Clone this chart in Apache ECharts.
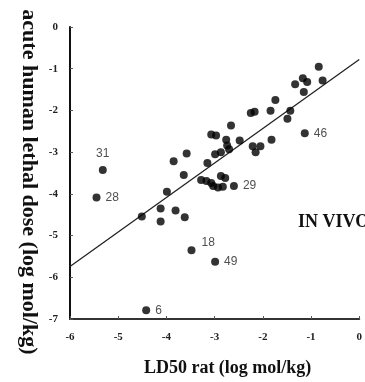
<!DOCTYPE html>
<html>
<head>
<meta charset="utf-8">
<script src="https://cdn.jsdelivr.net/npm/echarts@6/dist/echarts.min.js"></script>
<style>
html,body{margin:0;padding:0;background:#fff;}
#chart{width:365px;height:382px;}
</style>
</head>
<body>
<div id="chart"></div>
<script>
// LD50 rat (log mol/kg)
var ldRat = [-5.32,-5.45,-4.51,-4.12,-4.12,-3.99,-3.81,-3.62,-3.48,-3.85,
             -3.58,-3.64,-3.15,-3.28,-3.17,-3.07,-3.03,-2.93,-2.83,-2.87,
             -2.78,-2.60,-2.99,-2.87,-3.07,-2.97,-2.76,-2.74,-2.70,-2.48,
             -2.66,-2.21,-2.05,-2.15,-1.82,-2.25,-2.17,-1.84,-1.49,-1.43,
             -1.74,-1.15,-1.33,-1.17,-1.08,-0.84,-0.76,-1.13,-2.99,-4.42];
// acute human lethal dose (log mol/kg)
var humanDose = [-3.43,-4.09,-4.54,-4.35,-4.66,-3.95,-4.40,-4.56,-5.35,-3.22,
                 -3.03,-3.55,-3.26,-3.67,-3.69,-3.74,-3.81,-3.85,-3.83,-3.57,
                 -3.62,-3.81,-3.05,-3.00,-2.58,-2.60,-2.70,-2.84,-2.93,-2.72,
                 -2.36,-2.86,-2.86,-3.00,-2.70,-2.06,-2.03,-2.01,-2.20,-2.01,
                 -1.75,-1.56,-1.37,-1.23,-1.32,-0.95,-1.28,-2.55,-5.63,-6.79];
// point labels (outliers)
var pointLabels = ['31','28','','','','','','','18','',
                   '','','','','','','','','','',
                   '','29','','','','','','','','',
                   '','','','','','','','','','',
                   '','','','','','','','46','49','6'];
// regression line
var fitX = [-6, 0];
var fitY = [-5.74, -0.78];
var xTicks = [-6,-5,-4,-3,-2,-1,0];
var yTicks = [0,-1,-2,-3,-4,-5,-6,-7];
var xTitle = 'LD50 rat (log mol/kg)';
var yTitle = 'acute human lethal dose (log mol/kg)';
var panelText = 'IN VIVO';

var labelStyle = {
  '31': {position:'top', distance:6},
  '18': {position:'right', distance:6, offset:[0,-7]},
  default: {position:'right', distance:5}
};

var scatterData = ldRat.map(function(x, i){
  var item = {value:[x, humanDose[i]]};
  var lab = pointLabels[i];
  if (lab) {
    var s = labelStyle[lab] || labelStyle.default;
    item.label = {
      show:true, formatter:lab, position:s.position, distance:s.distance,
      offset:s.offset || [0,0], color:'#222', fontSize:12,
      fontFamily:'Liberation Sans, Arial, sans-serif'
    };
  }
  return item;
});
var lineData = fitX.map(function(x, i){ return [x, fitY[i]]; });

var chart = echarts.init(document.getElementById('chart'), null, {renderer:'canvas'});
var tickFont = {color:'#222', fontSize:11, fontWeight:'bold', fontFamily:'Liberation Serif, Times New Roman, serif'};
chart.setOption({
  animation:false,
  backgroundColor:'#fff',
  grid:{left:70, right:2, top:27, bottom:59},
  xAxis:{
    type:'value', min:xTicks[0], max:xTicks[xTicks.length-1], interval:1,
    name:xTitle, nameLocation:'middle', nameGap:40,
    nameTextStyle:{color:'#111', fontSize:18, fontWeight:'bold', fontFamily:'Liberation Serif, Times New Roman, serif', padding:[0,0,0,26]},
    axisLine:{show:true, onZero:false, lineStyle:{color:'#333', width:2}},
    axisTick:{show:true, inside:true, length:3, lineStyle:{color:'#555'}},
    axisLabel:Object.assign({margin:13}, tickFont),
    splitLine:{show:false}
  },
  yAxis:{
    type:'value', min:yTicks[yTicks.length-1], max:yTicks[0], interval:1,
    axisLine:{show:true, onZero:false, lineStyle:{color:'#111', width:2}},
    axisTick:{show:true, inside:true, length:3, lineStyle:{color:'#555'}},
    axisLabel:Object.assign({margin:12}, tickFont),
    splitLine:{show:false}
  },
  graphic:[{
    type:'text', x:29, y:182, rotation:-Math.PI/2,
    style:{text:yTitle, fill:'#111', font:'bold 22px "Liberation Serif", serif', align:'center', verticalAlign:'middle'}
  },{
    type:'text', left:298, top:213,
    style:{text:panelText, fill:'#111', font:'bold 18px "Liberation Serif", serif'}
  }],
  series:[
    {
      type:'line', data:lineData, showSymbol:false, symbol:'none',
      lineStyle:{color:'#222', width:1.3}, z:1, silent:true
    },
    {
      type:'scatter', data:scatterData, symbol:'circle', symbolSize:8,
      itemStyle:{color:'#000'}, z:3
    }
  ]
});
</script>
</body>
</html>
